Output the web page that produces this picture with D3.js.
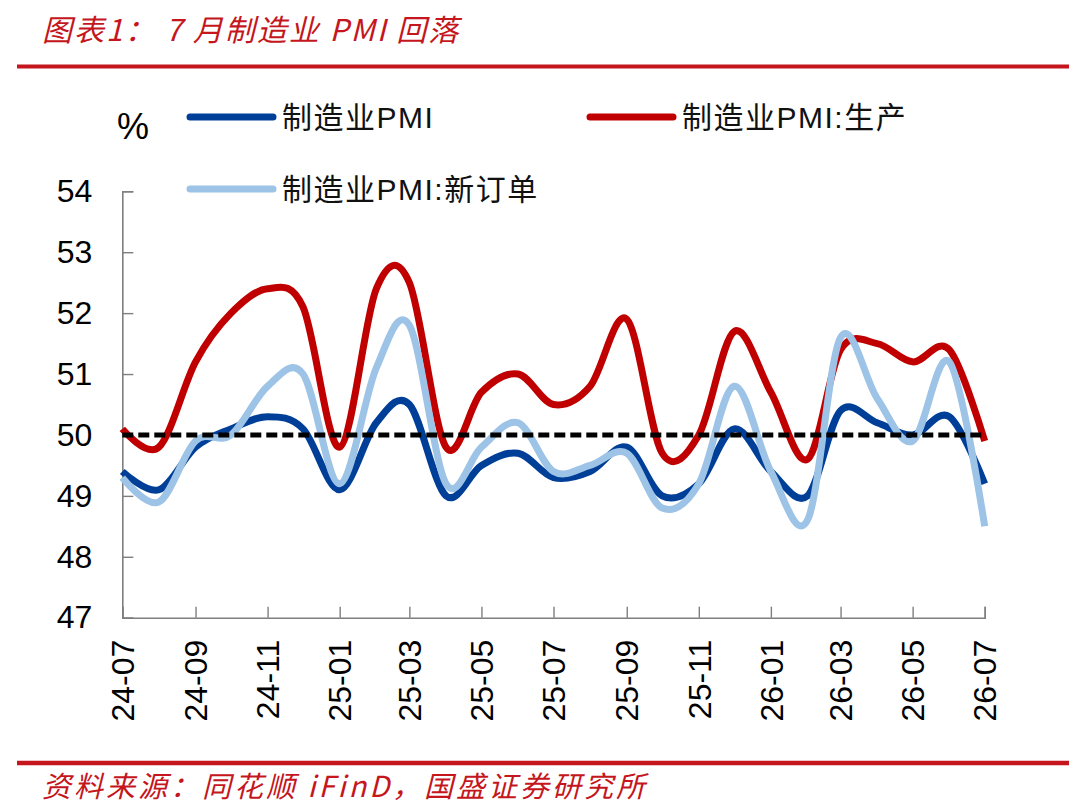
<!DOCTYPE html>
<html>
<head>
<meta charset="utf-8">
<script src="https://cdn.jsdelivr.net/npm/d3@7"></script>
<style>
  html, body { margin: 0; padding: 0; background: #fff; }
  svg { display: block; }
</style>
</head>
<body>
<div id="chart"></div>
<script>
// Monthly data, 24-07 .. 26-07
const months = ['24-07','24-08','24-09','24-10','24-11','24-12',
                '25-01','25-02','25-03','25-04','25-05','25-06',
                '25-07','25-08','25-09','25-10','25-11','25-12',
                '26-01','26-02','26-03','26-04','26-05','26-06','26-07'];

const pmi =        [49.4, 49.1, 49.8, 50.1, 50.3, 50.1,
                    49.1, 50.2, 50.5, 49.0, 49.5, 49.7,
                    49.3, 49.4, 49.8, 49.0, 49.2, 50.1,
                    49.4, 49.0, 50.4, 50.2, 50.0, 50.3, 49.2];

const production = [50.1, 49.8, 51.2, 52.0, 52.4, 52.1,
                    49.8, 52.4, 52.5, 49.8, 50.7, 51.0,
                    50.5, 50.8, 51.9, 49.7, 50.0, 51.7,
                    50.7, 49.6, 51.4, 51.5, 51.2, 51.4, 49.9];

const newOrders =  [49.3, 48.9, 49.9, 50.0, 50.8, 51.0,
                    49.2, 51.1, 51.8, 49.2, 49.8, 50.2,
                    49.4, 49.5, 49.7, 48.8, 49.2, 50.8,
                    49.4, 48.6, 51.6, 50.6, 49.9, 51.2, 48.5];

const tickMonths = ['24-07','24-09','24-11','25-01','25-03','25-05','25-07',
                    '25-09','25-11','26-01','26-03','26-05','26-07'];
const yTicks = [47, 48, 49, 50, 51, 52, 53, 54];
const baseline = 50;

const seriesNames = ['制造业PMI', '制造业PMI:生产', '制造业PMI:新订单'];

// Colours
const RED = '#C00000';
const BLUE = '#003F98';
const LIGHT = '#9DC3E6';
const BRAND = '#C4161C';
const AXIS = '#7F7F7F';
const LATIN = "'Liberation Sans', Arial, 'Noto Sans CJK SC', sans-serif";
const CJK = "'Noto Sans CJK SC', 'Liberation Sans', sans-serif";

const W = 1080, H = 808;
const plot = { left: 122.3, right: 984.7, top: 191.3, bottom: 617.7 };

const svg = d3.select('#chart')
    .append('svg')
    .attr('width', W)
    .attr('height', H);

const parseMonth = d3.timeParse('%y-%m');
const dates = months.map(parseMonth);

// Scales
const x = d3.scaleTime()
    .domain(d3.extent(dates))
    .range([plot.left, plot.right]);

const y = d3.scaleLinear()
    .domain([47, 54])
    .range([plot.bottom, plot.top]);

// Title + rules
svg.append('text')
    .attr('x', 42)
    .attr('y', 41)
    .style('font-family', CJK)
    .style('font-style', 'italic')
    .style('font-size', '30px')
    .style('letter-spacing', '2px')
    .style('fill', BRAND)
    .text('图表1： 7 月制造业 PMI 回落');

svg.append('line')
    .attr('x1', 17).attr('x2', 1069)
    .attr('y1', 66.5).attr('y2', 66.5)
    .attr('stroke', BRAND)
    .attr('stroke-width', 4);

svg.append('line')
    .attr('x1', 17).attr('x2', 1069)
    .attr('y1', 763).attr('y2', 763)
    .attr('stroke', BRAND)
    .attr('stroke-width', 4.5);

svg.append('text')
    .attr('x', 42)
    .attr('y', 797)
    .style('font-family', CJK)
    .style('font-style', 'italic')
    .style('font-size', '29px')
    .style('letter-spacing', '3px')
    .style('fill', BRAND)
    .text('资料来源：同花顺 iFinD，国盛证券研究所');

// Unit label
svg.append('text')
    .attr('x', 133)
    .attr('y', 139)
    .attr('text-anchor', 'middle')
    .style('font-family', LATIN)
    .style('font-size', '36px')
    .style('fill', '#000')
    .text('%');

// Axes
const yAxis = d3.axisLeft(y)
    .tickValues(yTicks)
    .tickSize(-11)
    .tickPadding(30)
    .tickFormat(d3.format('d'));

const gy = svg.append('g')
    .attr('transform', `translate(${plot.left},0)`)
    .call(yAxis);

const xAxis = d3.axisBottom(x)
    .tickValues(tickMonths.map(parseMonth))
    .tickSize(-11)
    .tickFormat(d3.timeFormat('%y-%m'));

const gx = svg.append('g')
    .attr('transform', `translate(0,${plot.bottom})`)
    .call(xAxis);

[gx, gy].forEach(g => {
    g.select('.domain').attr('stroke', AXIS).attr('stroke-width', 1.6);
    g.selectAll('.tick line').attr('stroke', AXIS).attr('stroke-width', 1.4);
});

gy.selectAll('text')
    .style('font-family', LATIN)
    .style('font-size', '32px')
    .style('fill', '#000');

gx.selectAll('text')
    .style('font-family', LATIN)
    .style('font-size', '32px')
    .style('fill', '#000')
    .style('text-anchor', 'end')
    .attr('x', 0)
    .attr('y', 0)
    .attr('dy', '0.35em')
    .attr('transform', 'translate(0,22) rotate(-90)');

// Lines
const line = d3.line()
    .x((d, i) => x(dates[i]))
    .y(d => y(d))
    .curve(d3.curveCardinal.tension(0));

const series = [
    { values: pmi, color: BLUE },
    { values: production, color: RED },
    { values: newOrders, color: LIGHT }
];

series.forEach(s => {
    svg.append('path')
        .datum(s.values)
        .attr('fill', 'none')
        .attr('stroke', s.color)
        .attr('stroke-width', 7)
        .attr('stroke-linejoin', 'round')
        .attr('d', line);
});

// 50 reference line
svg.append('line')
    .attr('x1', x(dates[0]))
    .attr('x2', x(dates[dates.length - 1]))
    .attr('y1', y(baseline))
    .attr('y2', y(baseline))
    .attr('stroke', '#000')
    .attr('stroke-width', 5)
    .attr('stroke-dasharray', '11,5');

// Legend
const legendItems = [
    { name: seriesNames[0], color: BLUE, x: 190, y: 117 },
    { name: seriesNames[1], color: RED, x: 590, y: 117 },
    { name: seriesNames[2], color: LIGHT, x: 190, y: 189 }
];

legendItems.forEach(item => {
    svg.append('line')
        .attr('x1', item.x).attr('x2', item.x + 83)
        .attr('y1', item.y).attr('y2', item.y)
        .attr('stroke', item.color)
        .attr('stroke-width', 7)
        .attr('stroke-linecap', 'round');

    svg.append('text')
        .attr('x', item.x + 92)
        .attr('y', item.y)
        .attr('dy', '0.36em')
        .style('font-family', LATIN)
        .style('font-size', '30px')
        .style('letter-spacing', '1.5px')
        .style('fill', '#111')
        .text(item.name);
});
</script>
</body>
</html>
